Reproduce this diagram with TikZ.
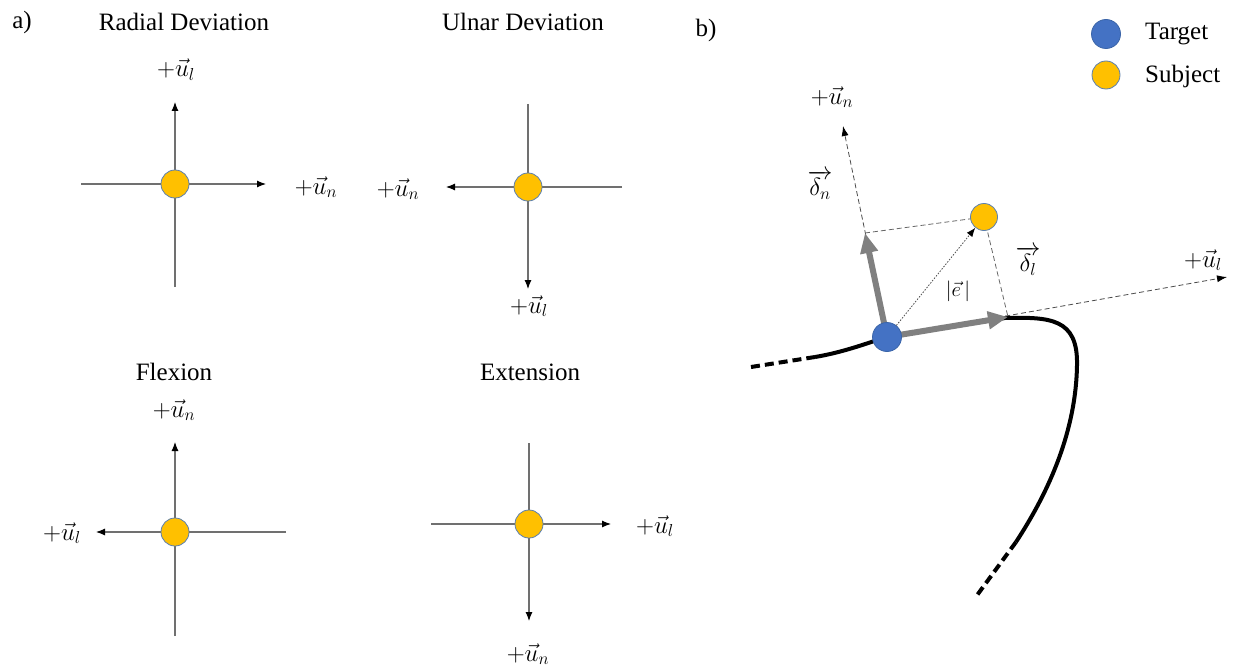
\documentclass[tikz,border=0pt]{standalone}
\usepackage{fontspec}
\setmainfont{Liberation Serif}
\usetikzlibrary{arrows.meta}
\definecolor{subjfill}{HTML}{FFC000}
\definecolor{subjedge}{HTML}{5B7FB0}
\definecolor{targfill}{HTML}{4472C4}
\definecolor{targedge}{HTML}{3A64A8}
\definecolor{axisgray}{HTML}{707070}
\definecolor{vecgray}{HTML}{808080}
\tikzset{
  subj/.style={circle, fill=subjfill, draw=subjedge, line width=0.8pt, minimum size=28pt, inner sep=0pt},
  targ/.style={circle, fill=targfill, draw=targedge, line width=0.8pt, minimum size=29pt, inner sep=0pt},
  axisline/.style={draw=axisgray, line width=1.1pt},
  axisarrow/.style={axisline, -{Latex[length=9pt,width=7pt,color=black]}},
  title/.style={font=\fontsize{25}{30}\selectfont, anchor=center},
  lab/.style={font=\fontsize{24}{28}\selectfont, anchor=center, inner sep=0pt},
  dashaxis/.style={draw=black!70, line width=0.8pt, dash pattern=on 5pt off 3pt, -{Latex[length=10pt,width=7pt,color=black]}},
  dashguide/.style={draw=black!60, line width=0.8pt, dash pattern=on 5pt off 3pt},
  thickvec/.style={draw=vecgray, line width=6pt, -{Triangle[length=20pt,width=17pt]}},
  pathline/.style={draw=black, line width=4pt},
}
\begin{document}
\begin{tikzpicture}[x=1pt,y=-1pt]
\path[use as bounding box] (0,0) rectangle (1233,666);

% ---------- panel a ----------
\node[title] (pa) at (22,22) {a)};

% Radial Deviation
\node[title] (t1) at (184,22) {Radial Deviation};
\coordinate (c1) at (175,184);
\coordinate (c1w) at (81,184);
\coordinate (c1e) at (266,184);
\coordinate (c1n) at (175,102);
\coordinate (c1s) at (175,287);
\draw[axisarrow] (c1w) -- (c1e);
\draw[axisarrow] (c1s) -- (c1n);
\node[subj] (s1) at (c1) {};
\node[lab] (l1n) at (176,70) {$+\vec{u}_l$};
\node[lab] (l1e) at (316,187) {$+\vec{u}_n$};

% Ulnar Deviation
\node[title] (t2) at (523,22) {Ulnar Deviation};
\coordinate (c2) at (528,187);
\coordinate (c2w) at (446,187);
\coordinate (c2e) at (622,187);
\coordinate (c2n) at (528,104);
\coordinate (c2s) at (528,289);
\draw[axisarrow] (c2e) -- (c2w);
\draw[axisarrow] (c2n) -- (c2s);
\node[subj] (s2) at (c2) {};
\node[lab] (l2w) at (398,189) {$+\vec{u}_n$};
\node[lab] (l2s) at (529,306) {$+\vec{u}_l$};

% Flexion
\node[title] (t3) at (174,372) {Flexion};
\coordinate (c3) at (175,532);
\coordinate (c3w) at (96,532);
\coordinate (c3e) at (286,532);
\coordinate (c3n) at (175,442);
\coordinate (c3s) at (175,636);
\draw[axisarrow] (c3e) -- (c3w);
\draw[axisarrow] (c3s) -- (c3n);
\node[subj] (s3) at (c3) {};
\node[lab] (l3n) at (174,410) {$+\vec{u}_n$};
\node[lab] (l3w) at (62,533) {$+\vec{u}_l$};

% Extension
\node[title] (t4) at (530,372) {Extension};
\coordinate (c4) at (529,524);
\coordinate (c4w) at (431,524);
\coordinate (c4e) at (611,524);
\coordinate (c4n) at (529,443);
\coordinate (c4s) at (529,621);
\draw[axisarrow] (c4w) -- (c4e);
\draw[axisarrow] (c4n) -- (c4s);
\node[subj] (s4) at (c4) {};
\node[lab] (l4e) at (655,526) {$+\vec{u}_l$};
\node[lab] (l4s) at (528,654) {$+\vec{u}_n$};

% ---------- panel b ----------
\node[title] (pb) at (706,30) {b)};

% legend
\node[targ] (lt) at (1106,34) {};
\node[font=\fontsize{25}{30}\selectfont, anchor=west, inner sep=0pt] (ltt) at (1145,34) {Target};
\node[subj] (ls) at (1106,75) {};
\node[font=\fontsize{25}{30}\selectfont, anchor=west, inner sep=0pt] (lst) at (1145,76) {Subject};

\coordinate (T) at (887,337);
\coordinate (un) at (843,126);
\coordinate (ul) at (1227,277);
\coordinate (dn) at (865,233);
\coordinate (dl) at (1008,317);
\coordinate (pS) at (984,217);

% path (black curve)
\coordinate (p0) at (751,367);
\coordinate (p1) at (815,357);
\coordinate (p2) at (1016,542);
\coordinate (p3) at (975,598);
\draw[pathline, dash pattern=on 9pt off 5pt] (p0) -- (p1);
\draw[pathline] (p1) .. controls (845,352) and (870,342) .. (T)
  -- (1005,318)
  .. controls (1050,317) and (1078,318) .. (1077,365)
  .. controls (1076,430) and (1050,490) .. (p2);
\draw[pathline, dash pattern=on 9pt off 5pt] (p2) -- (p3);

% axes
\draw[dashaxis] (T) -- (un);
\draw[dashaxis] (T) -- (ul);
\draw[dashguide] (dn) -- (pS);
\draw[dashguide] (pS) -- (dl);

% thick vectors
\draw[thickvec] (T) -- (dn);
\draw[thickvec] (T) -- (dl);

\node[targ] (tg) at (T) {};
\node[subj, minimum size=27pt] (S) at (pS) {};
\draw[draw=black!70, line width=0.8pt, dash pattern=on 1.5pt off 1.5pt, -{Latex[length=9pt,width=7pt,color=black]}] (tg) -- (S);

\node[lab] (lun) at (832,97) {$+\vec{u}_n$};
\node[lab] (lul) at (1203,260) {$+\vec{u}_l$};
\node[lab] (ldn) at (820,185) {$\overrightarrow{\delta_n}$};
\node[lab] (ldl) at (1028,261) {$\overrightarrow{\delta_l}$};
\node[lab, font=\fontsize{22}{26}\selectfont] (le) at (958,291) {$|\vec{e}\,|$};
\end{tikzpicture}
\end{document}
